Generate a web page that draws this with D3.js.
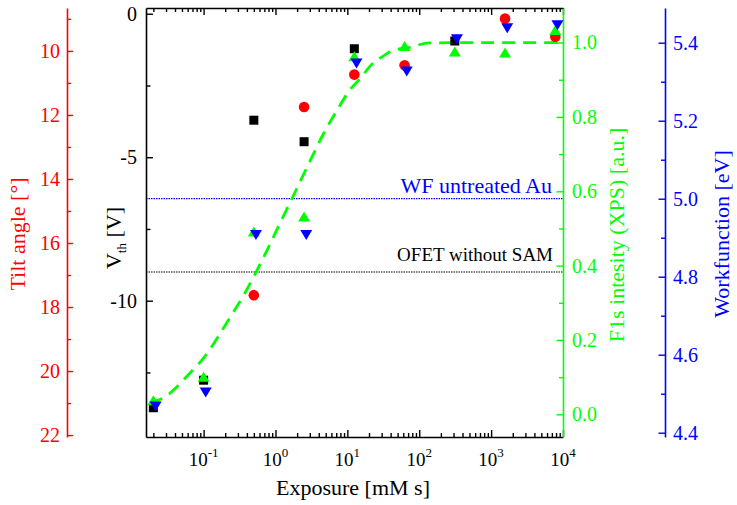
<!DOCTYPE html>
<html>
<head>
<meta charset="utf-8">
<script src="https://cdn.jsdelivr.net/npm/d3@7"></script>
<style>
body{margin:0;background:#fff;}
svg{display:block;font-family:"Liberation Serif","Times New Roman",serif;}
</style>
</head>
<body>
<svg id="chart" width="737" height="505"></svg>
<script>
// measured values, exposure in mM s
var vthExposure = [0.02, 0.1, 0.5, 2.5, 12.5, 312.5];
var vthValues = [-13.73, -12.77, -3.71, -4.46, -1.22, -0.95];
var tiltExposure = [0.5, 2.5, 12.5, 62.5, 1562.5, 7812.5];
var tiltValues = [17.63, 11.75, 10.74, 10.45, 8.99, 9.56];
var xpsExposure = [0.02, 0.1, 0.5, 2.5, 12.5, 62.5, 312.5, 1562.5, 7812.5];
var xpsValues = [0.038, 0.101, 0.492, 0.532, 0.963, 0.991, 0.976, 0.973, 1.034];
var wfExposure = [0.0215, 0.107, 0.535, 2.68, 13.4, 67, 335, 1675, 8375];
var wfValues = [4.467, 4.503, 4.907, 4.907, 5.347, 5.326, 5.409, 5.437, 5.445];
// dashed fit through F1s intensity
var fitExposure = [0.018, 0.029, 0.061, 0.114, 0.148, 0.23, 0.363, 0.532, 0.789, 1.12, 1.58, 2.25, 3.16, 4.69, 7.03, 10.8, 15.2, 21.5, 31.2, 45.4, 66, 139, 1000, 10000];
var fitValues = [0.031, 0.047, 0.106, 0.166, 0.199, 0.259, 0.321, 0.381, 0.447, 0.509, 0.568, 0.630, 0.689, 0.756, 0.815, 0.872, 0.904, 0.940, 0.963, 0.981, 0.985, 0.999, 1.0, 1.0];
var wfUntreated = 5.0;
var vthNoSam = -9.0;

var xTicks = [0.1, 1, 10, 100, 1000, 10000];
var xTickPowers = ["-1", "0", "1", "2", "3", "4"];
var vthTicks = [0, -5, -10];
var vthMinor = [-2.5, -7.5, -12.5];
var tiltTicks = [10, 12, 14, 16, 18, 20, 22];
var tiltMinor = [9, 11, 13, 15, 17, 19, 21];
var xpsTicks = [0, 0.2, 0.4, 0.6, 0.8, 1.0];
var xpsMinor = [0.1, 0.3, 0.5, 0.7, 0.9];
var wfTicks = [4.4, 4.6, 4.8, 5.0, 5.2, 5.4];
var wfMinor = [4.5, 4.7, 4.9, 5.1, 5.3];

var RED = "#ff0000", GREEN = "#00ff00", BLUE = "#0000ff";
var plotL = 146, plotR = 563, plotT = 8, plotB = 437;
var tiltX = 67, wfX = 665;

var svg = d3.select("#chart");

var x = d3.scaleLog().domain([0.0158, 10000]).range([plotL, plotR]);
var yVth = d3.scaleLinear().domain([-14.75, 0.2]).range([plotB, plotT]);
var yTilt = d3.scaleLinear().domain([8.66, 22.06]).range([plotT, plotB]);
var yXps = d3.scaleLinear().domain([-0.061, 1.093]).range([plotB, plotT]);
var yWf = d3.scaleLinear().domain([4.389, 5.489]).range([plotB, plotT]);

function styleAxis(g, color, size){
    g.attr("font-family", null).attr("font-size", size).style("color", color);
    g.selectAll("path.domain").attr("stroke-width", 1.6);
    g.selectAll(".tick line").attr("stroke-width", 1.4);
}
function minorAxis(g){
    g.select(".domain").remove();
    g.selectAll("line").attr("stroke-width", 1.4);
}

// reference lines
svg.append("line")
    .attr("x1", plotL).attr("x2", plotR)
    .attr("y1", yWf(wfUntreated)).attr("y2", yWf(wfUntreated))
    .attr("stroke", BLUE).attr("stroke-width", 1.2).attr("stroke-dasharray", "1.5,1");
svg.append("line")
    .attr("x1", plotL).attr("x2", plotR)
    .attr("y1", yVth(vthNoSam)).attr("y2", yVth(vthNoSam))
    .attr("stroke", "#000").attr("stroke-width", 1.2).attr("stroke-dasharray", "1.5,1");
svg.append("text")
    .attr("x", 552).attr("y", yWf(wfUntreated) - 6)
    .attr("text-anchor", "end").attr("font-size", 22).attr("fill", BLUE)
    .text("WF untreated Au");
svg.append("text")
    .attr("x", 553).attr("y", yVth(vthNoSam) - 11)
    .attr("text-anchor", "end").attr("font-size", 19).attr("fill", "#000")
    .text("OFET without SAM");

// x axes (bottom with labels, top mirrored)
var gx = svg.append("g").attr("transform", "translate(0," + plotB + ")")
    .call(d3.axisBottom(x).tickValues(xTicks).tickSize(-7).tickSizeOuter(0).tickFormat(""));
styleAxis(gx, "#000", 19);
var minorX = x.ticks().filter(function(d){ return xTicks.indexOf(d) == -1; });
svg.append("g").attr("transform", "translate(0," + plotB + ")")
    .call(d3.axisBottom(x).tickValues(minorX).tickSize(-4).tickFormat(""))
    .call(minorAxis);
var gxt = svg.append("g").attr("transform", "translate(0," + plotT + ")")
    .call(d3.axisTop(x).tickValues(xTicks).tickSize(-7).tickSizeOuter(0).tickFormat(""));
styleAxis(gxt, "#000", 19);
svg.append("g").attr("transform", "translate(0," + plotT + ")")
    .call(d3.axisTop(x).tickValues(minorX).tickSize(-4).tickFormat(""))
    .call(minorAxis);

xTicks.forEach(function(t, i){
    var lab = svg.append("text")
        .attr("x", x(t)).attr("y", 466)
        .attr("text-anchor", "middle").attr("font-size", 19);
    lab.append("tspan").text("10");
    lab.append("tspan").attr("dy", -9).attr("font-size", 13).text(xTickPowers[i]);
});

// V_th axis (left frame)
var gv = svg.append("g").attr("transform", "translate(" + plotL + ",0)")
    .call(d3.axisLeft(yVth).tickValues(vthTicks).tickSize(-7).tickSizeOuter(0).tickPadding(9)
        .tickFormat(function(d){ return String(d); }));
styleAxis(gv, "#000", 20);
svg.append("g").attr("transform", "translate(" + plotL + ",0)")
    .call(d3.axisLeft(yVth).tickValues(vthMinor).tickSize(-4.5).tickFormat(""))
    .call(minorAxis);

// tilt angle axis (red, far left)
var gt = svg.append("g").attr("transform", "translate(" + tiltX + ",0)")
    .call(d3.axisLeft(yTilt).tickValues(tiltTicks).tickSize(-6).tickSizeOuter(0).tickPadding(7));
styleAxis(gt, RED, 20);
svg.append("g").attr("transform", "translate(" + tiltX + ",0)").style("color", RED)
    .call(d3.axisLeft(yTilt).tickValues(tiltMinor).tickSize(-4).tickFormat(""))
    .call(minorAxis);

// F1s axis (green, right frame)
var gg = svg.append("g").attr("transform", "translate(" + plotR + ",0)")
    .call(d3.axisRight(yXps).tickValues(xpsTicks).tickSize(-6.5).tickSizeOuter(0).tickPadding(9)
        .tickFormat(d3.format(".1f")));
styleAxis(gg, GREEN, 20);
svg.append("g").attr("transform", "translate(" + plotR + ",0)").style("color", GREEN)
    .call(d3.axisRight(yXps).tickValues(xpsMinor).tickSize(-4).tickFormat(""))
    .call(minorAxis);

// workfunction axis (blue, far right)
var gw = svg.append("g").attr("transform", "translate(" + wfX + ",0)")
    .call(d3.axisRight(yWf).tickValues(wfTicks).tickSize(-6.5).tickSizeOuter(0).tickPadding(8)
        .tickFormat(d3.format(".1f")));
styleAxis(gw, BLUE, 20);
svg.append("g").attr("transform", "translate(" + wfX + ",0)").style("color", BLUE)
    .call(d3.axisRight(yWf).tickValues(wfMinor).tickSize(-4).tickFormat(""))
    .call(minorAxis);

// axis titles
svg.append("text")
    .attr("x", 353).attr("y", 495).attr("text-anchor", "middle").attr("font-size", 22)
    .text("Exposure [mM s]");
svg.append("text")
    .attr("transform", "translate(25,234) rotate(-90)")
    .attr("text-anchor", "middle").attr("font-size", 22).attr("fill", RED)
    .text("Tilt angle [°]");
var vt = svg.append("text")
    .attr("transform", "translate(121,238) rotate(-90)")
    .attr("text-anchor", "middle").attr("font-size", 22).attr("fill", "#000");
vt.append("tspan").text("V");
vt.append("tspan").attr("font-size", 13).attr("dy", 5).text("th");
vt.append("tspan").attr("dy", -5).text(" [V]");
svg.append("text")
    .attr("transform", "translate(624,235) rotate(-90)")
    .attr("text-anchor", "middle").attr("font-size", 22).attr("fill", GREEN)
    .text("F1s intesity (XPS) [a.u.]");
svg.append("text")
    .attr("transform", "translate(729,234) rotate(-90)")
    .attr("text-anchor", "middle").attr("font-size", 22).attr("fill", BLUE)
    .text("Workfunction [eV]");

// fit curve
var fitLine = d3.line()
    .x(function(d, i){ return x(fitExposure[i]); })
    .y(function(d){ return yXps(d); })
    .curve(d3.curveMonotoneX);
svg.append("path")
    .datum(fitValues)
    .attr("d", fitLine)
    .attr("fill", "none").attr("stroke", GREEN).attr("stroke-width", 2.8)
    .attr("stroke-dasharray", "13,8");

// markers
function trianglePath(cx, cy, up){
    var w = 6, h = 5, s = up ? 1 : -1;
    return "M" + (cx - w) + "," + (cy + s * h) + "L" + (cx + w) + "," + (cy + s * h) +
        "L" + cx + "," + (cy - s * h) + "Z";
}
svg.append("g").selectAll("rect")
    .data(vthValues).join("rect")
    .attr("x", function(d, i){ return x(vthExposure[i]) - 4.5; })
    .attr("y", function(d){ return yVth(d) - 4.5; })
    .attr("width", 9).attr("height", 9).attr("fill", "#000");
svg.append("g").selectAll("circle")
    .data(tiltValues).join("circle")
    .attr("cx", function(d, i){ return x(tiltExposure[i]); })
    .attr("cy", function(d){ return yTilt(d); })
    .attr("r", 5.3).attr("fill", RED);
svg.append("g").selectAll("path")
    .data(xpsValues).join("path")
    .attr("d", function(d, i){ return trianglePath(x(xpsExposure[i]), yXps(d), true); })
    .attr("fill", GREEN);
svg.append("g").selectAll("path")
    .data(wfValues).join("path")
    .attr("d", function(d, i){ return trianglePath(x(wfExposure[i]), yWf(d), false); })
    .attr("fill", BLUE);
</script>
</body>
</html>
